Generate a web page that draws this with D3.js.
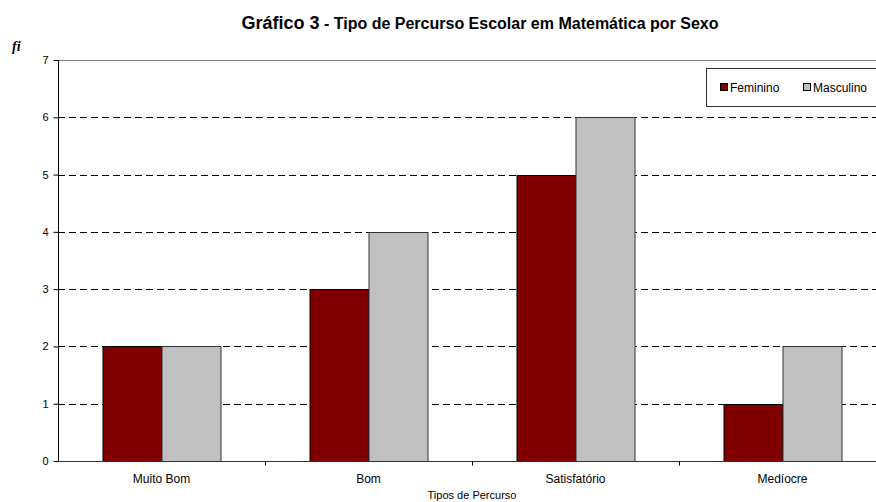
<!DOCTYPE html>
<html>
<head>
<meta charset="utf-8">
<script src="https://cdn.jsdelivr.net/npm/d3@7"></script>
<style>
  body { margin: 0; background: #fff; }
  text { font-family: Arial, "Liberation Sans", sans-serif; }
</style>
</head>
<body>
<svg id="chart" width="876" height="502"></svg>
<script>
var categories = ["Muito Bom", "Bom", "Satisfatório", "Medíocre"];
var series = ["Feminino", "Masculino"];
var feminino = [2, 3, 5, 1];
var masculino = [2, 4, 6, 2];
var yTicks = [0, 1, 2, 3, 4, 5, 6, 7];
var colors = ["#800000", "#c0c0c0"];

var svg = d3.select("#chart");
var margin = {left: 58, top: 60, right: -10, bottom: 41};
var width = 876 - margin.left - margin.right,
    height = 502 - margin.top - margin.bottom;

var data = categories.map(function(c, i) {
  return {cat: c, values: [feminino[i], masculino[i]]};
});

var x = d3.scaleBand().domain(categories).range([0, width]);
var y = d3.scaleLinear().domain([0, 7]).range([height, 0]);
var inner = d3.scaleBand().domain(series).range([0, 118]);

var g = svg.append("g").attr("transform", "translate(" + margin.left + "," + margin.top + ")");

// gridlines
g.append("g").selectAll("line")
  .data(yTicks.filter(function(d) { return d > 0; }))
  .enter().append("line")
    .attr("x1", 0).attr("x2", width)
    .attr("y1", function(d) { return Math.round(y(d)) + 0.5; })
    .attr("y2", function(d) { return Math.round(y(d)) + 0.5; })
    .style("stroke", function(d) { return d === 7 ? "#808080" : "#000"; })
    .style("stroke-dasharray", function(d) { return d === 7 ? null : "7,4"; });

// bars
var groups = g.append("g").selectAll("g")
  .data(data).enter().append("g")
    .attr("transform", function(d) { return "translate(" + (x(d.cat) + x.bandwidth() / 2 - 59) + ",0)"; });

groups.selectAll("rect")
  .data(function(d) { return d.values.map(function(v, i) { return {s: series[i], v: v, i: i}; }); })
  .enter().append("rect")
    .attr("x", function(d) { return Math.round(inner(d.s)) + 0.5; })
    .attr("y", function(d) { return Math.round(y(d.v)) + 0.5; })
    .attr("width", inner.bandwidth())
    .attr("height", function(d) { return Math.round(height - y(d.v)); })
    .style("fill", function(d) { return colors[d.i]; })
    .style("stroke", function(d) { return d.i === 0 ? "#000" : "#333"; })
    .style("stroke-width", 1);

// y axis
var yAxis = g.append("g").attr("transform", "translate(0.5,0)")
  .call(d3.axisLeft(y).tickValues(yTicks).tickFormat(d3.format("d")).tickSize(5).tickPadding(5));
yAxis.select(".domain").attr("d", "M0," + height + "V0").style("stroke", "#000");
yAxis.selectAll("text").style("font-size", "11px").style("fill", "#000");

// x axis
var xAxis = g.append("g").attr("transform", "translate(0," + (Math.round(height) + 0.5) + ")");
xAxis.append("line").attr("x1", 0).attr("x2", width).style("stroke", "#333");
xAxis.selectAll(".tk")
  .data(categories.slice(1)).enter().append("line")
    .attr("x1", function(d) { return Math.round(x(d)) + 0.5; })
    .attr("x2", function(d) { return Math.round(x(d)) + 0.5; })
    .attr("y1", 0).attr("y2", 4)
    .style("stroke", "#000");
xAxis.selectAll(".lbl")
  .data(categories).enter().append("text")
    .attr("x", function(d) { return x(d) + x.bandwidth() / 2; })
    .attr("y", 21)
    .attr("text-anchor", "middle")
    .style("font-size", "12px")
    .text(function(d) { return d; });

svg.append("text")
  .attr("x", 472).attr("y", 499)
  .attr("text-anchor", "middle")
  .style("font-size", "11px")
  .text("Tipos de Percurso");

// title
var title = svg.append("text")
  .attr("x", 480).attr("y", 29)
  .attr("text-anchor", "middle")
  .style("font-weight", "bold");
title.append("tspan").style("font-size", "18px").text("Gráfico 3");
title.append("tspan").style("font-size", "16px").text(" - Tipo de Percurso Escolar em Matemática por Sexo");

svg.append("text")
  .attr("x", 12).attr("y", 51)
  .style("font-family", "'Liberation Serif', 'Times New Roman', serif")
  .style("font-style", "italic")
  .style("font-weight", "bold")
  .style("font-size", "14px")
  .text("fi");

// legend
var legend = svg.append("g").attr("transform", "translate(706,68)");
legend.append("rect")
  .attr("x", 0.5).attr("y", 0.5).attr("width", 180).attr("height", 38)
  .style("fill", "#fff").style("stroke", "#333");
var items = legend.selectAll(".item")
  .data(series).enter().append("g")
    .attr("transform", function(d, i) { return "translate(" + (14 + i * 83) + ",15)"; });
items.append("rect")
  .attr("x", 0.5).attr("y", 0.5).attr("width", 7).attr("height", 7)
  .style("fill", function(d, i) { return colors[i]; })
  .style("stroke", "#000");
items.append("text")
  .attr("x", 10).attr("y", 8.5)
  .style("font-size", "12px")
  .text(function(d) { return d; });
</script>
</body>
</html>
